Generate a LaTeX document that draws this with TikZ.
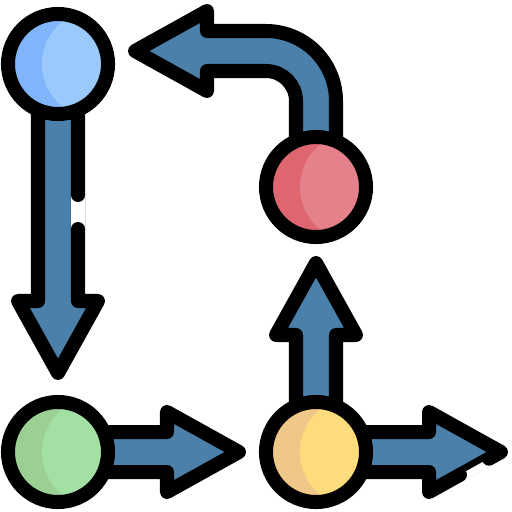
\documentclass[tikz,border=0pt]{standalone}
\usetikzlibrary{calc}
\definecolor{arrowblue}{HTML}{4A80AA}
\definecolor{bluelt}{HTML}{9CC9FB}
\definecolor{bluedk}{HTML}{80B4FB}
\definecolor{redlt}{HTML}{E4818A}
\definecolor{reddk}{HTML}{DD6670}
\definecolor{greenlt}{HTML}{A2E1A3}
\definecolor{greendk}{HTML}{9BCF94}
\definecolor{yellowlt}{HTML}{FEDC7C}
\definecolor{yellowdk}{HTML}{EFC888}
\tikzset{
  body/.style={fill=arrowblue, draw=black, line width=0.14cm, line join=round},
  disc/.style 2 args={circle, draw=black, line width=0.14cm, minimum size=1cm,
    inner sep=0pt, fill=#2,
    path picture={\fill[#1] ([xshift=0.39cm]path picture bounding box.center) circle[radius=0.55cm];}},
  gapcut/.style={white, line width=0.14cm},
  pics/fatarrow/.style={code={
    \filldraw[body] (0,-20) -- (#1,-20) -- (#1,-40) -- (#1+72,0) -- (#1,40) -- (#1,20) -- (0,20) -- cycle;
  }}
}
\begin{document}
\begin{tikzpicture}[x=0.01cm, y=-0.01cm]
    \useasboundingbox (0,0) rectangle (512,512);
    \coordinate (blue) at (58,64);
    \coordinate (red) at (316,187);
    \coordinate (green) at (58,452);
    \coordinate (yellow) at (316,452);

    \pic[rotate=-90] at (blue) {fatarrow=237};
    \pic at (green) {fatarrow=109};
    \pic[rotate=90] at (yellow) {fatarrow=117};
    \pic at (yellow) {fatarrow=113};
    \filldraw[body] ($(red)+(20,0)$) -- ++(0,-86) arc[start angle=0, end angle=-90, radius=70]
        -- ++(-59,0) -- ++(0,-20) -- ++(-72,40) -- ++(72,40) -- ++(0,-20) -- ++(59,0)
        arc[start angle=-90, end angle=0, radius=30] -- ++(0,86) -- cycle;

    \draw[gapcut] (78,195) -- (78,229);
    \fill (78,195) circle[radius=0.07cm] (78,229) circle[radius=0.07cm];
    \draw[white, line width=0.075cm] (461.7,477.9) -- (490.7,461.8);
    \fill (460,474.8) circle[radius=0.07cm] (489,458.7) circle[radius=0.07cm];

    \node[disc={bluelt}{bluedk}] (b) at (blue) {};
    \node[disc={redlt}{reddk}] (r) at (red) {};
    \node[disc={greenlt}{greendk}] (g) at (green) {};
    \node[disc={yellowlt}{yellowdk}] (y) at (yellow) {};
\end{tikzpicture}
\end{document}
